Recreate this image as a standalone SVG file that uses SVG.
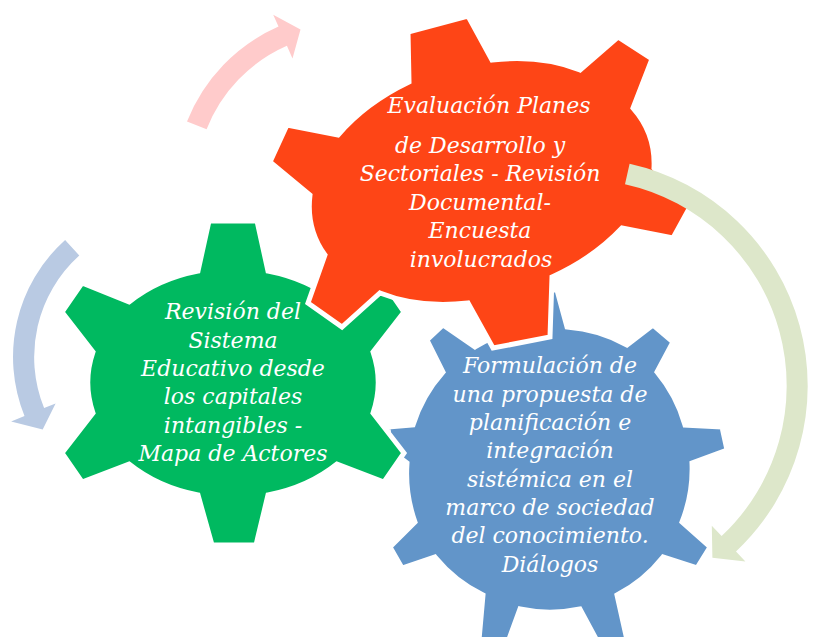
<svg xmlns="http://www.w3.org/2000/svg" width="813" height="637" viewBox="0 0 813 637">
<style>
.gear{stroke:#FFFFFF;stroke-width:5;stroke-linejoin:miter}
.red{fill:#FE4516}
.green{fill:#00B960}
.blue{fill:#6295C9}
.lbl{font-family:"DejaVu Serif","Liberation Serif",serif;font-style:italic;font-size:22px;fill:#FFFFFF;text-anchor:middle}
</style>
<rect width="813" height="637" fill="#FFFFFF"/>
<g id="gear-blue">
<path class="gear blue" d="M528,327 L535,290 L557,290 L567,327 A144,144 0 0 1 627,345 L653,325 L673,342 L657,372 A144,144 0 0 1 685,425 L722,427 L727,450 L692,463 A144,144 0 0 1 682,522 L710,547 L697,568 L663,557 A144,144 0 0 1 617,595 L627,640 L602,650 L580,609 A144,144 0 0 1 520,609 L505,650 L479,640 L483,595 A144,144 0 0 1 435,557 L402,568 L390,547 L415,522 A144,144 0 0 1 407,463 L390,450 L388,427 L413,425 A144,144 0 0 1 443,372 L427,340 L443,325 L475,347 A144,144 0 0 1 528,327 Z"/>
<text class="lbl"><tspan x="550" y="373">Formulación de</tspan><tspan x="550" y="401.5">una propuesta de</tspan><tspan x="550" y="430">planificación e</tspan><tspan x="550" y="458">integración</tspan><tspan x="550" y="486.5">sistémica en el</tspan><tspan x="550" y="515">marco de sociedad</tspan><tspan x="550" y="543">del conocimiento.</tspan><tspan x="550" y="571.5">Diálogos</tspan></text>
</g>
<g id="gear-green">
<path class="gear green" d="M198,271 L209,221 L257,221 L268,271 A145,115.5 0 0 1 337,302 L384,283 L404,312 L373,352 A145,115.5 0 0 1 373,413 L404,453 L384,482 L337,464 A145,115.5 0 0 1 268,495 L256,545 L212,545 L198,495 A145,115.5 0 0 1 129,464 L82,482 L62,453 L93,413 A145,115.5 0 0 1 93,352 L62,312 L82,283 L129,302 A145,115.5 0 0 1 198,271 Z"/>
<text class="lbl"><tspan x="233" y="319">Revisión del</tspan><tspan x="233" y="347.5">Sistema</tspan><tspan x="233" y="376">Educativo desde</tspan><tspan x="233" y="404">los capitales</tspan><tspan x="233" y="432.5">intangibles -</tspan><tspan x="233" y="461">Mapa de Actores</tspan></text>
</g>
<g id="gear-red">
<path class="gear red" d="M409,82 L408,32 L468,16 L492,60 A172,118 -20 0 1 580,70 L618,37 L652,59 L633,108 A172,118 -20 0 1 654,168 L690,207 L673,238 L622,228 A172,118 -20 0 1 552,277 L550,337 L493,348 L468,303 A172,118 -20 0 1 380,293 L342,327 L308,303 L325,255 A172,118 -20 0 1 310,195 L270,162 L287,125 L338,135 A172,118 -20 0 1 409,82 Z"/>
<text class="lbl"><tspan x="489" y="113">Evaluación Planes</tspan><tspan x="480" y="152.5">de Desarrollo y</tspan><tspan x="480" y="181">Sectoriales - Revisión</tspan><tspan x="480" y="209.5">Documental-</tspan><tspan x="480" y="238">Encuesta</tspan><tspan x="481" y="266.5">involucrados</tspan></text>
</g>
<g id="connectors">
<path id="arrow-pink" fill="#FFCBCB" d="M187,121.6 A173,173 0 0 1 278.5,26.6 L273.2,14.7 L300.5,29.6 L292.5,58.6 L286.9,45.8 A152,152 0 0 0 206.6,129.3 Z"/>
<path id="arrow-lightblue" fill="#B9CAE3" d="M65.1,239.9 A157.6,157.6 0 0 0 24.5,416 L11.1,421.4 L42.7,429.4 L55.6,403.4 L44.1,408.1 A136.4,136.4 0 0 1 79.3,255.6 Z"/>
<path id="arrow-lightgreen" fill="#DDE7CA" d="M629.6,163.8 A227.3,227.3 0 0 1 736,551.4 L745.4,561.4 L712.4,557.7 L711.8,525.7 L721.6,536.1 A206.3,206.3 0 0 0 625,184.3 Z"/>
</g>
</svg>
